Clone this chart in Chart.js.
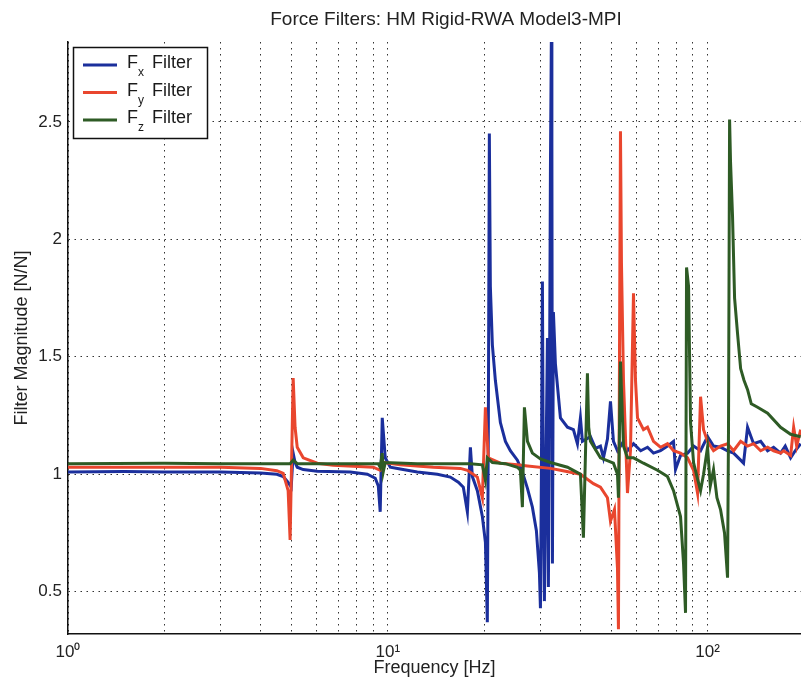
<!DOCTYPE html>
<html>
<head>
<meta charset="utf-8">
<script src="https://cdn.jsdelivr.net/npm/chart.js@4.4.1/dist/chart.umd.min.js"></script>
<style>
  html, body { margin: 0; padding: 0; background: #fff; overflow: hidden; }
  #wrap { width: 801px; height: 687px; position: relative; }
</style>
</head>
<body>
<div id="wrap"><canvas id="filter-chart"></canvas></div>
<script>
// values (frequency in Hz, magnitude in N/N)
const fxFreq = [1, 1.5, 2, 3, 4, 4.5, 4.71, 4.88, 4.99, 5.06, 5.13, 5.21, 5.44, 6.02, 7.63, 8.63, 9.14, 9.34, 9.47, 9.61, 9.82, 10.18, 10.94, 12.37, 14.29, 15.69, 16.62, 17.23, 17.74, 18.13, 18.39, 19.06, 19.76, 20.2, 20.48, 20.63, 20.78, 20.93, 21.24, 21.7, 22.5, 23.33, 24.17, 25.43, 26.36, 27.34, 28.33, 29.16, 29.8, 30.02, 30.23, 30.45, 30.67, 30.89, 31.34, 31.57, 31.79, 32.03, 32.26, 32.49, 32.6, 32.73, 32.96, 33.44, 34.67, 36.47, 38.07, 39.18, 40.04, 40.62, 43.03, 44.63, 46.25, 47.26, 48.64, 49.71, 50.79, 52.28, 54.59, 56.18, 58.67, 61.8, 64.9, 67.76, 71.27, 74.96, 78.27, 79.4, 82.32, 86.59, 90.42, 95.09, 100, 104.4, 109.8, 115.5, 120.6, 126.9, 129.6, 133.4, 139.3, 146.6, 154.1, 160.9, 169.2, 175, 181.9, 188, 195.5];
const fxMag = [1.01, 1.012, 1.01, 1.01, 1.005, 1.0, 0.99, 0.965, 0.945, 1.09, 1.05, 1.03, 1.02, 1.013, 1.01, 1.0, 0.983, 0.95, 0.84, 1.24, 1.07, 1.03, 1.022, 1.01, 1.0, 0.988, 0.966, 0.945, 0.84, 1.115, 0.99, 0.93, 0.82, 0.71, 0.37, 1.2, 2.45, 1.8, 1.55, 1.4, 1.22, 1.14, 1.1, 1.06, 1.01, 0.94, 0.86, 0.76, 0.58, 0.43, 1.0, 1.82, 0.9, 0.46, 1.2, 1.58, 0.52, 1.3, 2.3, 2.9, 2.41, 0.62, 1.69, 1.47, 1.24, 1.2, 1.19, 1.13, 1.24, 1.14, 1.16, 1.11, 1.12, 1.07, 1.15, 1.31, 1.14, 1.1, 1.14, 1.1, 1.13, 1.1, 1.115, 1.09, 1.1, 1.12, 1.14, 1.02, 1.08, 1.09, 1.12, 1.1, 1.16, 1.12, 1.115, 1.1, 1.09, 1.06, 1.047, 1.2, 1.13, 1.14, 1.1, 1.115, 1.09, 1.12, 1.07, 1.1, 1.13];

const fyFreq = [1, 2, 3, 4, 4.5, 4.71, 4.88, 4.95, 5.06, 5.13, 5.21, 5.44, 6.02, 6.75, 9.01, 9.47, 9.68, 10.94, 13.88, 16.87, 17.74, 19.06, 19.76, 20.2, 20.63, 22.5, 25.43, 27.34, 32.26, 34.67, 40.04, 43.97, 46.25, 48.64, 49.71, 51.16, 52.28, 52.65, 53.04, 53.42, 53.8, 54.59, 56.18, 57.41, 58.67, 59.52, 60.39, 63.05, 64.9, 67.76, 71.27, 74.96, 78.27, 82.32, 86.59, 90.42, 93.05, 95.09, 97.16, 100, 104.4, 109.8, 115.5, 120.6, 126.9, 133.4, 139.3, 146.6, 154.1, 160.9, 169.2, 172.9, 181.9, 185.9, 190, 195.5];
const fyMag = [1.03, 1.03, 1.03, 1.025, 1.015, 1.004, 0.93, 0.72, 1.41, 1.2, 1.115, 1.07, 1.047, 1.038, 1.03, 1.017, 1.05, 1.04, 1.03, 1.025, 1.017, 0.988, 0.9, 1.285, 1.07, 1.047, 1.04, 1.035, 1.025, 1.017, 1.0, 0.96, 0.945, 0.9, 0.8, 0.85, 0.6, 0.34, 1.5, 2.46, 1.9, 1.4, 0.92, 1.1, 1.77, 1.4, 1.24, 1.19, 1.2, 1.14, 1.115, 1.13, 1.1, 1.09, 1.07, 1.017, 0.92, 1.33, 1.19, 1.14, 1.1, 1.12, 1.13, 1.1, 1.14, 1.12, 1.13, 1.1, 1.115, 1.1, 1.09, 1.1, 1.08, 1.2, 1.12, 1.19];

const fzFreq = [1, 2, 3, 4.95, 5.06, 5.21, 9.34, 9.47, 9.61, 9.68, 9.82, 12.37, 18.13, 19.76, 20.2, 20.48, 21.24, 23.33, 25.43, 25.98, 26.36, 26.75, 27.34, 28.33, 30.02, 32.26, 36.47, 40.04, 40.91, 42.11, 42.5, 43.03, 46.25, 50.79, 52.28, 52.65, 53.42, 54.59, 56.18, 58.67, 63.05, 69.74, 74.96, 78.27, 82.32, 84.12, 85.34, 85.97, 87.22, 88.48, 90.42, 93.05, 95.09, 97.16, 100, 102, 104.4, 107, 109.8, 113, 115.5, 116.3, 117.2, 118, 119.7, 121.5, 124.1, 126.9, 130, 133.4, 137, 143.4, 154.1, 169.2, 181.9, 195.5];
const fzMag = [1.045, 1.047, 1.045, 1.045, 1.06, 1.045, 1.045, 1.03, 1.09, 1.01, 1.05, 1.045, 1.045, 1.04, 0.975, 1.07, 1.05, 1.045, 1.03, 1.017, 0.86, 1.285, 1.14, 1.09, 1.065, 1.05, 1.03, 1.0, 0.73, 1.43, 1.2, 1.14, 1.07, 1.047, 1.0, 0.9, 1.48, 1.12, 1.07, 1.07, 1.047, 1.017, 0.99, 0.93, 0.82, 0.62, 0.41, 1.88, 1.8, 1.22, 1.05, 0.98, 0.93, 1.0, 1.115, 0.95, 1.02, 0.9, 0.85, 0.75, 0.56, 1.2, 2.51, 2.33, 2.1, 1.75, 1.6, 1.45, 1.4, 1.36, 1.3, 1.285, 1.26, 1.2, 1.17, 1.16];

const xGridValues = [1, 2, 3, 4, 5, 6, 7, 8, 9, 10, 20, 30, 40, 50, 60, 70, 80, 90, 100];
const xLabelValues = [1, 10, 100];
const xLabelText = ['10\u2070', '10\u00b9', '10\u00b2'];
const yTickValues = [0.5, 1, 1.5, 2, 2.5];

const chartTitle = 'Force Filters: HM Rigid-RWA Model3-MPI';
const fontFamily = '"Liberation Sans", Arial, Helvetica, sans-serif';

const blue = '#1b2f9c';
const red = '#e9462e';
const green = '#2e5b25';

const legendRows = [
    { sub: 'x', color: blue },
    { sub: 'y', color: red },
    { sub: 'z', color: green }
];

const toPoints = (freq, mag) => freq.map((f, i) => ({ x: f, y: mag[i] }));

// title and legend (legend has subscripts, so draw it by hand)
const overlayPlugin = {
    id: 'overlay',
    afterDraw: (chart) => {
        const ctx = chart.ctx;
        ctx.save();
        ctx.fillStyle = '#222';
        ctx.font = '19px ' + fontFamily;
        ctx.textAlign = 'center';
        ctx.textBaseline = 'middle';
        ctx.fillText(chartTitle, 446, 20);

        ctx.fillStyle = '#fff';
        ctx.fillRect(73, 47, 134, 91);
        ctx.strokeStyle = '#111';
        ctx.lineWidth = 1.5;
        ctx.strokeRect(73.5, 47.5, 134, 91);

        ctx.textAlign = 'left';
        ctx.textBaseline = 'alphabetic';
        legendRows.forEach((row, i) => {
            const y = 65 + i * 27.5;
            ctx.strokeStyle = row.color;
            ctx.lineWidth = 3;
            ctx.beginPath();
            ctx.moveTo(83, y);
            ctx.lineTo(117, y);
            ctx.stroke();
            ctx.fillStyle = '#1a1a1a';
            ctx.font = '18px ' + fontFamily;
            ctx.fillText('F', 127, y + 3);
            ctx.fillText('Filter', 152, y + 3);
            ctx.font = '12px ' + fontFamily;
            ctx.fillText(row.sub, 138, y + 11);
        });
        ctx.restore();
    }
};

const ctx = document.getElementById('filter-chart');
new Chart(ctx, {
    type: 'line',
    data: {
        datasets: [{
            label: 'Fx Filter',
            data: toPoints(fxFreq, fxMag),
            borderColor: blue,
            borderWidth: 3,
            pointRadius: 0,
            order: 3
        },
        {
            label: 'Fy Filter',
            data: toPoints(fyFreq, fyMag),
            borderColor: red,
            borderWidth: 3,
            pointRadius: 0,
            order: 2
        },
        {
            label: 'Fz Filter',
            data: toPoints(fzFreq, fzMag),
            borderColor: green,
            borderWidth: 3,
            pointRadius: 0,
            order: 1
        }]
    },
    options: {
        responsive: true,
        maintainAspectRatio: false,
        animation: false,
        events: [],
        layout: { padding: { top: 42, right: 0, bottom: 0, left: 0 } },
        plugins: {
            legend: { display: false },
            tooltip: { enabled: false }
        },
        scales: {
            x: {
                type: 'logarithmic',
                min: 1,
                max: 196,
                afterFit: (scale) => { scale.height = 53; },
                afterBuildTicks: (scale) => {
                    scale.ticks = xGridValues.map(v => ({ value: v }));
                },
                ticks: {
                    autoSkip: false,
                    maxRotation: 0,
                    padding: 8,
                    color: '#222',
                    font: { family: fontFamily, size: 17 },
                    callback: (value) => {
                        const i = xLabelValues.indexOf(value);
                        return i >= 0 ? xLabelText[i] : '';
                    }
                },
                grid: { color: '#333', lineWidth: 1, drawTicks: false },
                border: { display: true, color: '#111', width: 1.5, dash: [1.5, 4.5] },
                title: {
                    display: true,
                    text: 'Frequency [Hz]',
                    color: '#222',
                    font: { family: fontFamily, size: 18 },
                    padding: { top: 0, bottom: 8 }
                }
            },
            y: {
                type: 'linear',
                min: 0.32,
                max: 2.84,
                afterFit: (scale) => { scale.width = 68; },
                afterBuildTicks: (scale) => {
                    scale.ticks = yTickValues.map(v => ({ value: v }));
                },
                ticks: {
                    padding: 6,
                    color: '#222',
                    font: { family: fontFamily, size: 17 },
                    callback: (value) => String(value)
                },
                grid: { color: '#333', lineWidth: 1, drawTicks: false },
                border: { display: true, color: '#111', width: 1.5, dash: [1.5, 4.5] },
                title: {
                    display: true,
                    text: 'Filter Magnitude [N/N]',
                    color: '#222',
                    font: { family: fontFamily, size: 18 },
                    padding: { top: 11, bottom: 0 }
                }
            }
        }
    },
    plugins: [overlayPlugin]
});
</script>
</body>
</html>
